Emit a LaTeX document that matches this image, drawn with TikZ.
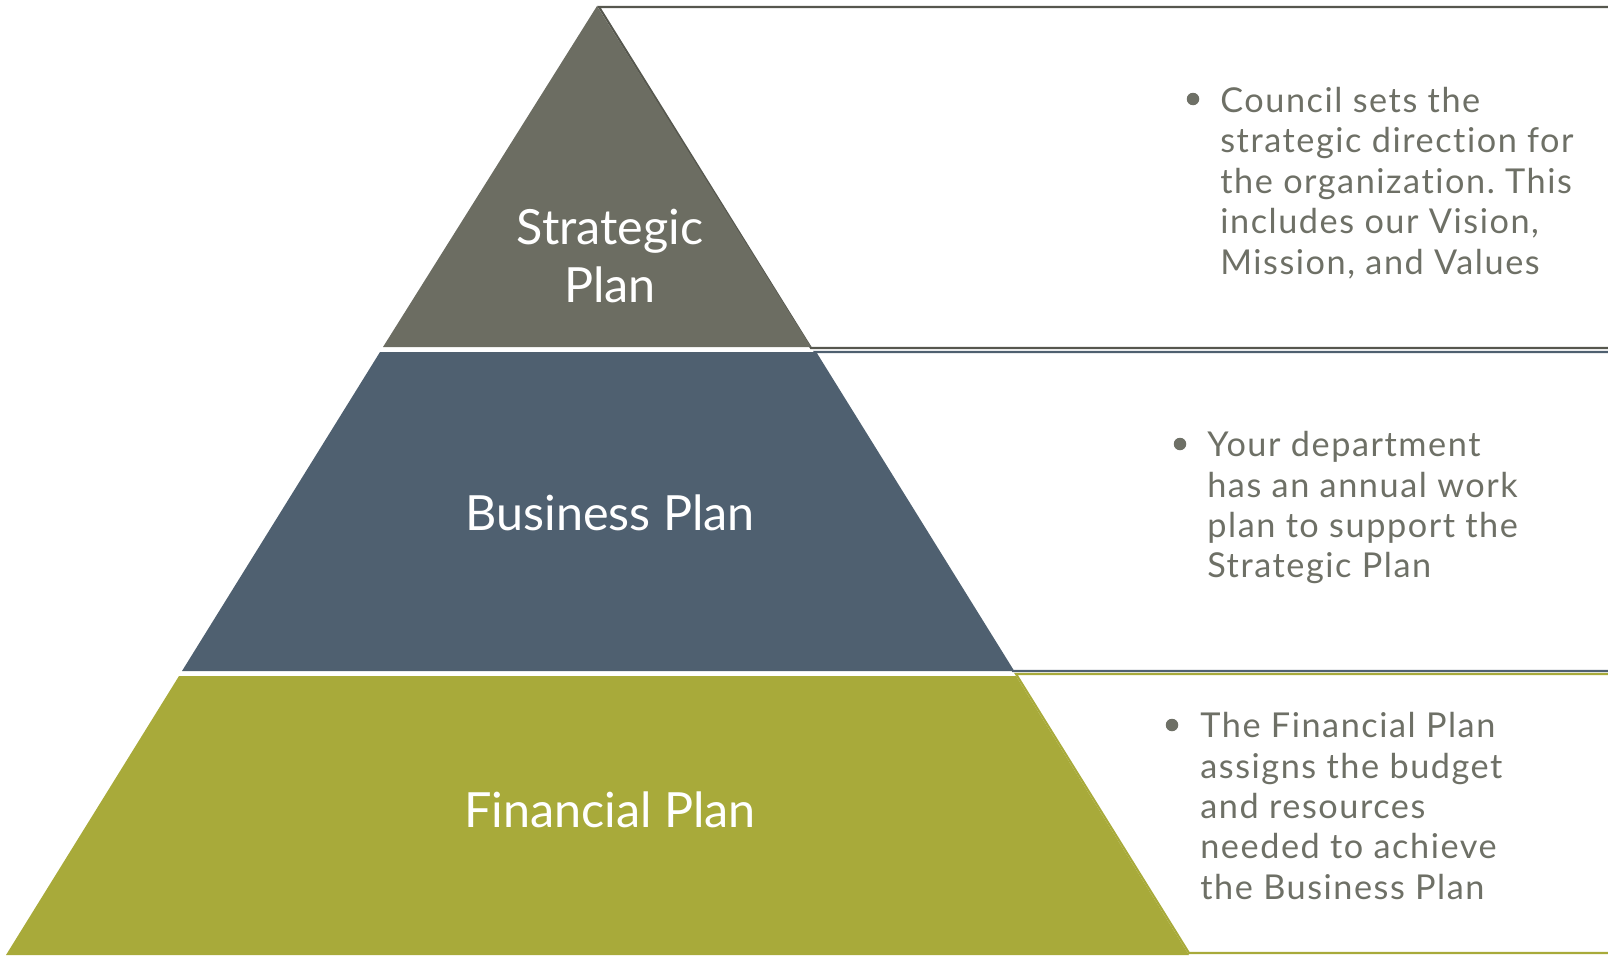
\documentclass[tikz,border=0pt]{standalone}
\usepackage{fontspec}
\setmainfont{Lato}[Ligatures=NoCommon]
\newfontfamily\bodyfont{Lato}[LetterSpace=4.5, Ligatures=NoCommon]
\usetikzlibrary{positioning}
\frenchspacing

\definecolor{stratgray}{HTML}{6C6D62}
\definecolor{busblue}{HTML}{4F6070}
\definecolor{finolive}{HTML}{A8AA3A}
\definecolor{bodygray}{HTML}{6E7066}

\begin{document}
\begin{tikzpicture}[x=0.02cm, y=-0.02cm,
                    tier label/.style={text=white, align=center, inner sep=0pt,
                                       font=\fontsize{27.6}{33}\selectfont},
                    box line/.style={line width=1.2pt, line join=miter},
                    bullet/.style={circle, fill=bodygray, inner sep=0pt, minimum size=0.25cm},
                    bullet text/.style={anchor=north west, inner sep=0pt, text=bodygray, align=left,
                                        font=\bodyfont\fontsize{19.5}{23}\selectfont}]

	\useasboundingbox (0,0) rectangle (1608,957);

	% boxes behind the pyramid
	\draw[box line, draw=stratgray!80!black] (1608,7)   -- (599,7)    -- (811,348)  -- (1608,348);
	\draw[box line, draw=busblue]            (1608,352) -- (815,352)  -- (1013,671) -- (1608,671);
	\draw[box line, draw=finolive]           (1608,674) -- (1016,674) -- (1189,953) -- (1608,953);

	% the three tiers
	\fill[stratgray] (597,6)   -- (811,347)  -- (383,347) -- cycle;
	\fill[busblue]   (380,352) -- (815,352)  -- (1013,671) -- (182,671) -- cycle;
	\fill[finolive]  (179,676) -- (1016,676) -- (1189,955) -- (6,955) -- cycle;

	\node[tier label] (strategic) at (610,256) {Strategic\\Plan};
	\node[tier label] (business)  at (610,513) {Business Plan};
	\node[tier label] (financial) at (610,810) {Financial Plan};

	\node[bullet] (dot1) at (1193,99)  {};
	\node[bullet] (dot2) at (1180,444) {};
	\node[bullet] (dot3) at (1172,725) {};

	\node[bullet text] (council) at (1220,87)
		{Council sets the\\strategic direction for\\the organization. This\\includes our Vision,\\Mission, and Values};
	\node[bullet text] (department) at (1207,431)
		{Your department\\has an annual work\\plan to support the\\Strategic Plan};
	\node[bullet text] (budget) at (1200,712)
		{The Financial Plan\\assigns the budget\\and resources\\needed to achieve\\the Business Plan};
\end{tikzpicture}
\end{document}
